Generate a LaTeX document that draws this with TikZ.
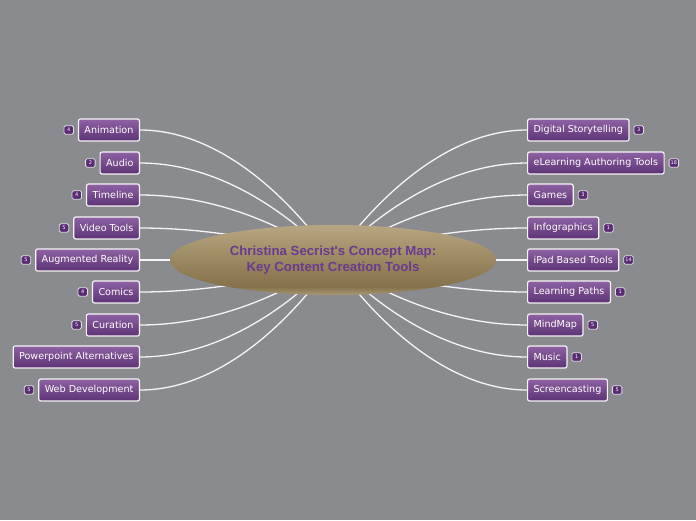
\documentclass[tikz,border=0pt]{standalone}
\usepackage{fontspec}
\setmainfont{DejaVu Sans}
\newfontfamily\hubfont{Liberation Sans}
\usepackage{tikz}
\usetikzlibrary{positioning,shapes.geometric}
\usepackage{xcolor}
\definecolor{bgGray}{HTML}{8A8B8F}
\definecolor{boxTop}{HTML}{8E62A3}
\definecolor{boxBot}{HTML}{5C3375}
\definecolor{badgeFill}{HTML}{5A2C74}
\definecolor{hubText}{HTML}{6A3A90}
\definecolor{hubA}{HTML}{B7A682}
\definecolor{hubM}{HTML}{A08E66}
\definecolor{hubB}{HTML}{85714A}
\definecolor{hubC}{HTML}{A89875}
\pgfdeclareverticalshading{hubshade}{100bp}{color(0bp)=(hubC); color(25bp)=(hubC); color(31bp)=(hubB); color(55bp)=(hubM); color(75bp)=(hubA); color(100bp)=(hubA)}

\begin{document}
\begin{tikzpicture}[x=1pt,y=-1pt,
  topic/.style={rectangle,rounded corners=2pt,draw=white!92!gray,line width=1.2pt,
    top color=boxTop,bottom color=boxBot,text=white,font=\fontsize{9.6}{11}\selectfont,
    minimum height=22pt,inner xsep=6pt},
  badge/.style={rectangle,rounded corners=1.5pt,draw=white!75!gray,line width=0.8pt,
    fill=badgeFill,text=white,font=\fontsize{5}{5}\selectfont,
    minimum width=9.5pt,minimum height=8.5pt,inner sep=1pt},
  link/.style={white!92!gray,line width=1.3pt},
  hub/.style={ellipse,shading=hubshade,minimum width=326pt,minimum height=70pt,
    text=hubText,align=center,font=\hubfont\bfseries\fontsize{13.2}{16.5}\selectfont}]
\fill[bgGray] (0,0) rectangle (696,520);
\useasboundingbox (0,0) rectangle (696,520);
\coordinate (hc) at (333,260);
% left branch
\node[topic,anchor=east] (anim) at (140,130) {Animation};
\node[badge,left=4pt of anim] (anim-n) {4};
\node[topic,anchor=east] (audio) at (140,163) {Audio};
\node[badge,left=4pt of audio] (audio-n) {2};
\node[topic,anchor=east] (tline) at (140,195) {Timeline};
\node[badge,left=4pt of tline] (tline-n) {4};
\node[topic,anchor=east] (video) at (140,228) {Video Tools};
\node[badge,left=4pt of video] (video-n) {5};
\node[topic,anchor=east] (augr) at (140,260) {Augmented Reality};
\node[badge,left=4pt of augr] (augr-n) {5};
\node[topic,anchor=east] (comics) at (140,292) {Comics};
\node[badge,left=4pt of comics] (comics-n) {4};
\node[topic,anchor=east] (curat) at (140,325) {Curation};
\node[badge,left=4pt of curat] (curat-n) {5};
\node[topic,anchor=east] (ppt) at (140,357) {Powerpoint Alternatives};
\node[topic,anchor=east] (webdev) at (140,390) {Web Development};
\node[badge,left=4pt of webdev] (webdev-n) {5};
% right branch
\node[topic,anchor=west] (digst) at (527,130) {Digital Storytelling};
\node[badge,right=4pt of digst] (digst-n) {3};
\node[topic,anchor=west] (elearn) at (527,163) {eLearning Authoring Tools};
\node[badge,right=4pt of elearn] (elearn-n) {18};
\node[topic,anchor=west] (games) at (527,195) {Games};
\node[badge,right=4pt of games] (games-n) {3};
\node[topic,anchor=west] (infog) at (527,228) {Infographics};
\node[badge,right=4pt of infog] (infog-n) {1};
\node[topic,anchor=west] (ipad) at (527,260) {iPad Based Tools};
\node[badge,right=4pt of ipad] (ipad-n) {14};
\node[topic,anchor=west] (lpath) at (527,292) {Learning Paths};
\node[badge,right=4pt of lpath] (lpath-n) {1};
\node[topic,anchor=west] (mmap) at (527,325) {MindMap};
\node[badge,right=4pt of mmap] (mmap-n) {5};
\node[topic,anchor=west] (music) at (527,357) {Music};
\node[badge,right=4pt of music] (music-n) {1};
\node[topic,anchor=west] (scast) at (527,390) {Screencasting};
\node[badge,right=4pt of scast] (scast-n) {5};
% links
\foreach \n in {anim,audio,tline,video,augr,comics,curat,ppt,webdev}
  \draw[link] (\n.east) .. controls +(110,0) and (hc) .. (hc);
\foreach \n in {digst,elearn,games,infog,ipad,lpath,mmap,music,scast}
  \draw[link] (\n.west) .. controls +(-110,0) and (hc) .. (hc);
\node[hub] (hub) at (hc) {Christina Secrist's Concept Map:\\Key Content Creation Tools};
\end{tikzpicture}
\end{document}
